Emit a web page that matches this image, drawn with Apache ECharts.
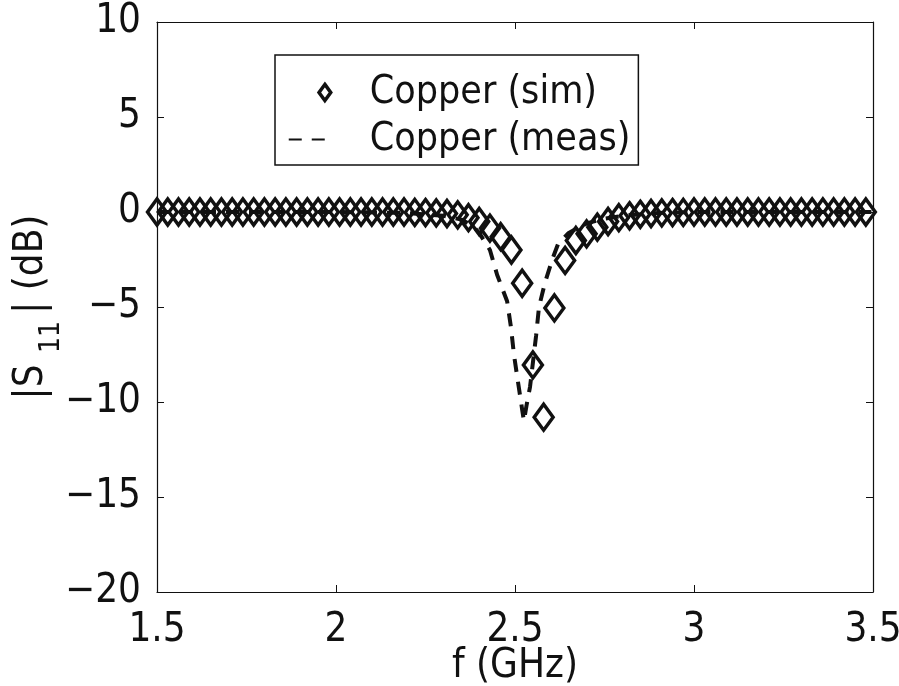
<!DOCTYPE html>
<html>
<head>
<meta charset="utf-8">
<title>|S11| copper</title>
<script src="https://cdn.jsdelivr.net/npm/echarts@6.0.0/dist/echarts.min.js"></script>
<style>
  html, body { margin: 0; padding: 0; background: #fff; }
  #chart { width: 899px; height: 686px; }
</style>
</head>
<body>
<div id="chart"></div>
<script>
// simulated |S11| (diamond markers), 0.03 GHz steps
const freqSim = [1.50, 1.53, 1.56, 1.59, 1.62, 1.65, 1.68, 1.71, 1.74, 1.77,
  1.80, 1.83, 1.86, 1.89, 1.92, 1.95, 1.98, 2.01, 2.04, 2.07,
  2.10, 2.13, 2.16, 2.19, 2.22, 2.25, 2.28, 2.31, 2.34, 2.37,
  2.40, 2.43, 2.46, 2.49, 2.52, 2.55, 2.58, 2.61, 2.64, 2.67,
  2.70, 2.73, 2.76, 2.79, 2.82, 2.85, 2.88, 2.91, 2.94, 2.97,
  3.00, 3.03, 3.06, 3.09, 3.12, 3.15, 3.18, 3.21, 3.24, 3.27,
  3.30, 3.33, 3.36, 3.39, 3.42, 3.45, 3.48]
const s11Sim = [0, 0, 0, 0, 0, 0, 0, 0, 0, 0,
  0, 0, 0, 0, 0, 0, 0, 0, 0, 0,
  0, 0, 0, 0, -0.02, -0.03, -0.05, -0.08, -0.15, -0.3,
  -0.5, -0.85, -1.3, -2.0, -3.75, -8.05, -10.8, -5.05, -2.55, -1.5,
  -1.15, -0.8, -0.5, -0.3, -0.2, -0.12, -0.08, -0.05, -0.03, -0.02,
  0, 0, 0, 0, 0, 0, 0, 0, 0, 0,
  0, 0, 0, 0, 0, 0, 0]

// measured |S11| (dashed line)
const freqMeas = [1.50, 2.00, 2.20, 2.30, 2.35, 2.38, 2.40, 2.43, 2.45, 2.478,
  2.489, 2.497, 2.508, 2.52, 2.525, 2.532, 2.542, 2.559, 2.567, 2.584,
  2.606, 2.62, 2.65, 2.70, 2.75, 2.80, 2.90, 3.00, 3.50]
const s11Meas = [0, 0, -0.05, -0.2, -0.4, -0.7, -1.1, -2.0, -3.3, -4.7,
  -6.1, -7.5, -8.9, -10.4, -11.0, -10.2, -9.2, -6.5, -5.0, -3.7,
  -2.4, -1.7, -1.1, -0.6, -0.35, -0.2, -0.05, 0, 0]

const xTicks = {min: 1.5, max: 3.5, step: 0.5}
const yTicks = {min: -20, max: 10, step: 5}

const font = "'Liberation Sans Narrow', 'DejaVu Sans Condensed', 'Noto Sans', sans-serif"
const ink = '#111'

const zip = (xs, ys) => xs.map((x, i) => [x, ys[i]])
const minus = v => (v < 0 ? '\u2212' + (-v) : String(v))

const chart = echarts.init(document.getElementById('chart'), null, {renderer: 'canvas'})

const baseAxis = {
  axisLine: {show: true, onZero: false, lineStyle: {color: ink, width: 1.2}},
  axisTick: {show: true, inside: true, length: 7, lineStyle: {color: ink, width: 1}},
  splitLine: {show: false},
  nameMoveOverlap: false
}

chart.setOption({
  backgroundColor: '#fff',
  animation: false,
  grid: {left: 157, right: 26, top: 22, bottom: 94, containLabel: false, outerBoundsMode: 'none'},
  xAxis: [
    {
      ...baseAxis,
      type: 'value',
      min: xTicks.min, max: xTicks.max, interval: xTicks.step,
      position: 'bottom',
      name: 'f (GHz)',
      nameLocation: 'middle',
      nameGap: 55,
      nameTextStyle: {fontFamily: font, fontSize: 40, color: ink},
      axisLabel: {fontFamily: font, fontSize: 40, color: ink, margin: 19}
    },
    {
      ...baseAxis,
      type: 'value',
      min: xTicks.min, max: xTicks.max, interval: xTicks.step,
      position: 'top',
      axisLabel: {show: false}
    }
  ],
  yAxis: [
    {
      ...baseAxis,
      type: 'value',
      min: yTicks.min, max: yTicks.max, interval: yTicks.step,
      position: 'left',
      name: '{a||S }{s|11}{a|\u2009| (dB)}',
      nameLocation: 'middle',
      nameGap: 103,
      nameTextStyle: {
        fontFamily: font, color: ink,
        rich: {
          a: {fontFamily: font, fontSize: 40, lineHeight: 44, color: ink},
          s: {fontFamily: font, fontSize: 28, lineHeight: 30, color: ink, padding: [40, 0, 0, 0]}
        }
      },
      axisLabel: {fontFamily: font, fontSize: 40, color: ink, margin: 16, formatter: minus}
    },
    {
      ...baseAxis,
      type: 'value',
      min: yTicks.min, max: yTicks.max, interval: yTicks.step,
      position: 'right',
      axisLabel: {show: false}
    }
  ],
  legend: {
    left: 275,
    top: 55,
    orient: 'vertical',
    padding: [18, 8, 6, 12],
    itemGap: 8,
    itemWidth: 42,
    itemHeight: 20,
    borderColor: ink,
    borderWidth: 1.5,
    backgroundColor: '#fff',
    textStyle: {fontFamily: font, fontSize: 39, color: ink, padding: [0, 0, 0, 34]},
    data: [
      {
        name: 'Copper (sim)',
        // leading moveTo widens the icon box so the diamond sits at its right end
        icon: 'path://M-40,0M0,-9L6.5,0L0,9L-6.5,0Z',
        itemStyle: {color: 'rgba(0,0,0,0)', borderColor: ink, borderWidth: 3.5, opacity: 1}
      },
      {
        name: 'Copper (meas)',
        itemStyle: {color: 'rgba(0,0,0,0)', borderWidth: 0, opacity: 0}
      }
    ]
  },
  series: [
    {
      name: 'Copper (meas)',
      type: 'line',
      data: zip(freqMeas, s11Meas),
      showSymbol: false,
      symbol: 'none',
      smooth: false,
      lineStyle: {color: ink, width: 4, type: [13, 10]},
      itemStyle: {color: ink},
      z: 2
    },
    {
      name: 'Copper (sim)',
      type: 'scatter',
      data: zip(freqSim, s11Sim),
      symbol: 'diamond',
      symbolSize: [19, 26],
      itemStyle: {color: 'rgba(0,0,0,0)', borderColor: ink, borderWidth: 3.5, opacity: 1},
      z: 3
    }
  ]
})
</script>
</body>
</html>
